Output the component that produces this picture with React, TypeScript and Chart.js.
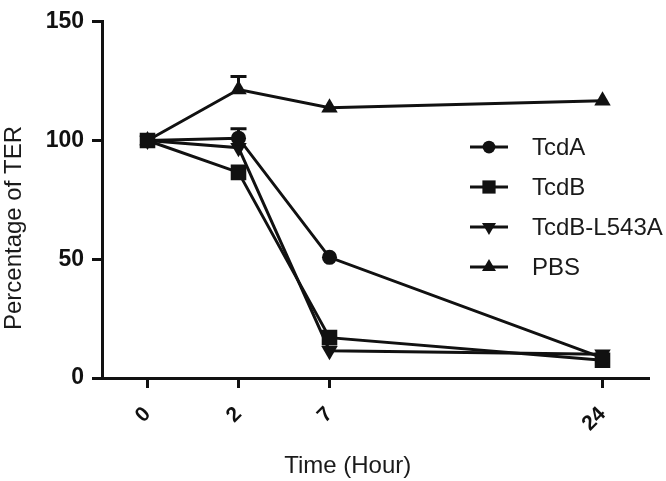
import React, { useEffect, useRef } from "react";
import { Chart, registerables } from "chart.js";

Chart.register(...registerables);

// ---- data ----
const hourLabels = ["0", "2", "7", "24"];
const hourSlots = [0, 1, 2, 5]; // axis slot of each time point (axis is not linear in hours)
const seriesNames = ["TcdA", "TcdB", "TcdB-L543A", "PBS"];
const tcdA = [100, 101, 50.8, 8.5];
const tcdB = [100, 86.6, 17, 7.5];
const tcdBL543A = [100, 97, 11.5, 10];
const pbs = [100, 121.5, 113.8, 116.8];
const tcdAErr = [0, 4, 0, 0];
const tcdBErr = [0, 0, 0, 0];
const tcdBL543AErr = [0, 0, 0, 0];
const pbsErr = [0, 5.5, 0, 0];
const yTicks = [0, 50, 100, 150];

const INK = "#111111";
const FONT = "'Liberation Sans', Arial, sans-serif";

const markerStyles = [
  { pointStyle: "circle", radius: 7.5, rotation: 0 },
  { pointStyle: "rect", radius: 11, rotation: 0 },
  { pointStyle: "triangle", radius: 9.5, rotation: 180 },
  { pointStyle: "triangle", radius: 9.5, rotation: 0 },
];

function drawMarker(ctx: CanvasRenderingContext2D, style: string, r: number, rot: number, x: number, y: number) {
  ctx.save();
  ctx.fillStyle = INK;
  ctx.beginPath();
  if (style === "circle") {
    ctx.arc(x, y, r, 0, Math.PI * 2);
  } else if (style === "rect") {
    const s = r * Math.SQRT1_2;
    ctx.rect(x - s, y - s, 2 * s, 2 * s);
  } else {
    let a = (rot * Math.PI) / 180;
    ctx.moveTo(x + Math.sin(a) * r, y - Math.cos(a) * r);
    a += (2 * Math.PI) / 3;
    ctx.lineTo(x + Math.sin(a) * r, y - Math.cos(a) * r);
    a += (2 * Math.PI) / 3;
    ctx.lineTo(x + Math.sin(a) * r, y - Math.cos(a) * r);
    ctx.closePath();
  }
  ctx.fill();
  ctx.restore();
}

const errorBarPlugin = {
  id: "errorBars",
  beforeDatasetsDraw(chart: any) {
    const ctx = chart.ctx;
    const xs = chart.scales.x;
    const ys = chart.scales.y;
    chart.data.datasets.forEach((ds: any) => {
      const errs: number[] = ds.errors || [];
      ds.data.forEach((p: any, i: number) => {
        const e = errs[i];
        if (!e) return;
        const x = xs.getPixelForValue(p.x);
        const y0 = ys.getPixelForValue(p.y);
        const y1 = ys.getPixelForValue(p.y + e);
        ctx.save();
        ctx.strokeStyle = INK;
        ctx.lineWidth = 3;
        ctx.beginPath();
        ctx.moveTo(x, y0);
        ctx.lineTo(x, y1);
        ctx.moveTo(x - 8, y1);
        ctx.lineTo(x + 8, y1);
        ctx.stroke();
        ctx.restore();
      });
    });
  },
};

const decorPlugin = {
  id: "decor",
  afterDraw(chart: any) {
    const ctx = chart.ctx;
    const area = chart.chartArea;
    ctx.save();
    // axis titles
    ctx.fillStyle = "#1a1a1a";
    ctx.font = `24px ${FONT}`;
    ctx.textAlign = "center";
    ctx.textBaseline = "middle";
    ctx.fillText("Time (Hour)", area.left + (area.right - area.left) * 0.45, 466);
    ctx.save();
    ctx.translate(14, 228);
    ctx.rotate(-Math.PI / 2);
    ctx.fillText("Percentage of TER", 0, 0);
    ctx.restore();
    // legend
    const lx = 470;
    const ly = 147;
    chart.data.datasets.forEach((ds: any, i: number) => {
      const y = ly + i * 40;
      ctx.strokeStyle = INK;
      ctx.lineWidth = 3;
      ctx.beginPath();
      ctx.moveTo(lx, y);
      ctx.lineTo(lx + 38, y);
      ctx.stroke();
      const m = markerStyles[i];
      drawMarker(ctx, m.pointStyle, m.radius * 0.85, m.rotation, lx + 19, y);
      ctx.fillStyle = "#1a1a1a";
      ctx.textAlign = "left";
      ctx.fillText(ds.label, lx + 62, y + 1);
    });
    ctx.restore();
  },
};

export default function App() {
  const canvasRef = useRef<HTMLCanvasElement | null>(null);

  useEffect(() => {
    if (!canvasRef.current) return;
    const values = [tcdA, tcdB, tcdBL543A, pbs];
    const errs = [tcdAErr, tcdBErr, tcdBL543AErr, pbsErr];
    const datasets = values.map((vals, i) => ({
      label: seriesNames[i],
      data: vals.map((v, j) => ({ x: hourSlots[j], y: v })),
      errors: errs[i],
      borderColor: INK,
      backgroundColor: INK,
      borderWidth: 3,
      pointStyle: markerStyles[i].pointStyle,
      pointRadius: markerStyles[i].radius,
      pointRotation: markerStyles[i].rotation,
      pointBorderWidth: 0,
      pointBackgroundColor: INK,
      tension: 0,
    }));

    const chart = new Chart(canvasRef.current, {
      type: "line",
      data: { datasets } as any,
      options: {
        animation: false,
        responsive: false,
        layout: { padding: { top: 12, right: 18, bottom: 0, left: 0 } },
        plugins: { legend: { display: false }, tooltip: { enabled: false } },
        scales: {
          x: {
            type: "linear",
            min: -0.5,
            max: 5.5,
            afterBuildTicks: (scale: any) => {
              scale.ticks = hourSlots.map((v) => ({ value: v }));
            },
            afterFit: (scale: any) => {
              scale.height = 103;
            },
            ticks: {
              autoSkip: false,
              minRotation: 45,
              maxRotation: 45,
              padding: 14,
              color: INK,
              font: { family: FONT, size: 21, weight: "bold" },
              callback: (v: any) => {
                const idx = hourSlots.indexOf(Number(v));
                return idx >= 0 ? hourLabels[idx] : "";
              },
            },
            grid: {
              display: true,
              drawOnChartArea: false,
              drawTicks: true,
              tickLength: 10,
              color: INK,
              lineWidth: 3,
            },
            border: { display: true, color: INK, width: 3 },
          },
          y: {
            type: "linear",
            min: 0,
            max: 150,
            afterBuildTicks: (scale: any) => {
              scale.ticks = yTicks.map((v) => ({ value: v }));
            },
            afterFit: (scale: any) => {
              scale.width = 102;
            },
            ticks: {
              padding: 8,
              color: INK,
              font: { family: FONT, size: 23, weight: "bold" },
            },
            grid: {
              display: true,
              drawOnChartArea: false,
              drawTicks: true,
              tickLength: 10,
              color: INK,
              lineWidth: 3,
            },
            border: { display: true, color: INK, width: 3 },
          },
        },
      } as any,
      plugins: [errorBarPlugin, decorPlugin],
    });
    return () => chart.destroy();
  }, []);

  return (
    <div style={{ position: "absolute", left: 0, top: 0, width: 666, height: 481, background: "#fff" }}>
      <canvas ref={canvasRef} width={666} height={481} style={{ display: "block" }} />
    </div>
  );
}
